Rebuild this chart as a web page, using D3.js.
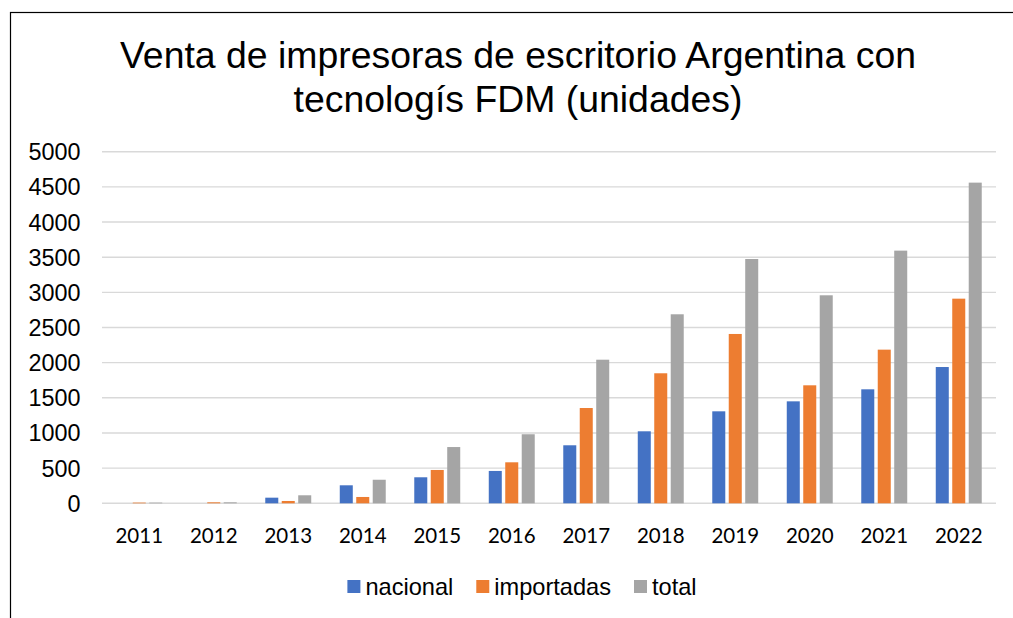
<!doctype html>
<html lang="es">
<head>
  <meta charset="utf-8">
  <title>Venta de impresoras FDM</title>
  <script src="https://cdn.jsdelivr.net/npm/d3@7"></script>
  <style>
    body { margin: 0; background: #fff; }
    svg { display: block; }
  </style>
</head>
<body>
  <svg id="chart" width="1013" height="618"></svg>
  <script>
    // datos
    const years = ["2011","2012","2013","2014","2015","2016","2017","2018","2019","2020","2021","2022"];
    const nacional   = [0, 0, 80, 256, 370, 460, 825, 1024, 1308, 1450, 1621, 1938];
    const importadas = [10, 14, 33, 90, 474, 583, 1355, 1849, 2408, 1678, 2185, 2910];
    const total      = [10, 14, 114, 335, 800, 982, 2042, 2688, 3474, 2958, 3593, 4560];
    const seriesNames = ["nacional", "importadas", "total"];
    const colors = ["#4472C4", "#ED7D31", "#A5A5A5"];
    const yTicks = [0, 500, 1000, 1500, 2000, 2500, 3000, 3500, 4000, 4500, 5000];

    const svg = d3.select("#chart");
    const plotL = 102, plotR = 996, plotT = 151.7, plotB = 503.3;

    // marco
    svg.append("rect")
      .attr("x", 10.5).attr("y", 12.5)
      .attr("width", 1100).attr("height", 800)
      .attr("fill", "none").attr("stroke", "#000").attr("stroke-width", 1.2);

    // titulo
    const title = svg.append("text")
      .attr("text-anchor", "middle")
      .style("font-family", "'Liberation Sans', Arial, sans-serif")
      .style("font-size", "37.4px").attr("fill", "#000");
    title.append("tspan").attr("x", 518).attr("y", 68).text("Venta de impresoras de escritorio Argentina con");
    title.append("tspan").attr("x", 518).attr("y", 111.5).text("tecnologís FDM (unidades)");

    const x0 = d3.scaleBand().domain(years).range([plotL, plotR])
      .paddingInner(0.383).paddingOuter(0.1915);
    const x1 = d3.scaleBand().domain(seriesNames).range([0, x0.bandwidth()])
      .paddingInner(0.21).paddingOuter(0);
    const y = d3.scaleLinear().domain([0, 5000]).range([plotB, plotT]);

    // lineas de division
    svg.append("g").selectAll("line").data(yTicks).enter().append("line")
      .attr("x1", plotL).attr("x2", plotR)
      .attr("y1", d => y(d)).attr("y2", d => y(d))
      .attr("stroke", "#d9d9d9").attr("stroke-width", 1.4);

    // eje y
    svg.append("g").selectAll("text").data(yTicks).enter().append("text")
      .attr("x", 80.5).attr("y", d => y(d) + 8.5)
      .attr("text-anchor", "end")
      .style("font-family", "'Liberation Sans', Arial, sans-serif")
      .style("font-size", "23.4px").attr("fill", "#000")
      .text(d => d);

    // barras
    const rows = years.map((yr, i) => ({ year: yr, vals: [nacional[i], importadas[i], total[i]] }));
    const groups = svg.append("g").selectAll("g").data(rows).enter().append("g")
      .attr("transform", d => `translate(${x0(d.year)},0)`);
    groups.selectAll("rect")
      .data(d => d.vals.map((v, k) => ({ name: seriesNames[k], v: v, k: k })))
      .enter().append("rect")
      .attr("x", d => x1(d.name))
      .attr("width", x1.bandwidth())
      .attr("y", d => y(d.v))
      .attr("height", d => y(0) - y(d.v))
      .attr("fill", d => colors[d.k]);

    // eje x
    svg.append("g").selectAll("text").data(years).enter().append("text")
      .attr("x", d => x0(d) + x0.bandwidth() / 2).attr("y", 543)
      .attr("text-anchor", "middle")
      .style("font-family", "Lato, 'Open Sans', sans-serif")
      .style("font-size", "20.5px").attr("fill", "#000")
      .text(d => d);

    // leyenda
    const legend = svg.append("g");
    let cx = 0;
    seriesNames.forEach((name, k) => {
      legend.append("rect").attr("x", cx).attr("y", -15).attr("width", 13).attr("height", 13).attr("fill", colors[k]);
      const t = legend.append("text").attr("x", cx + 18).attr("y", 0)
        .style("font-family", "'Liberation Sans', Arial, sans-serif")
        .style("font-size", "23.6px").attr("fill", "#000").text(name);
      cx += 18 + t.node().getComputedTextLength() + 23;
    });
    const legendW = cx - 23;
    legend.attr("transform", `translate(${522 - legendW / 2},595)`);
  </script>
</body>
</html>
